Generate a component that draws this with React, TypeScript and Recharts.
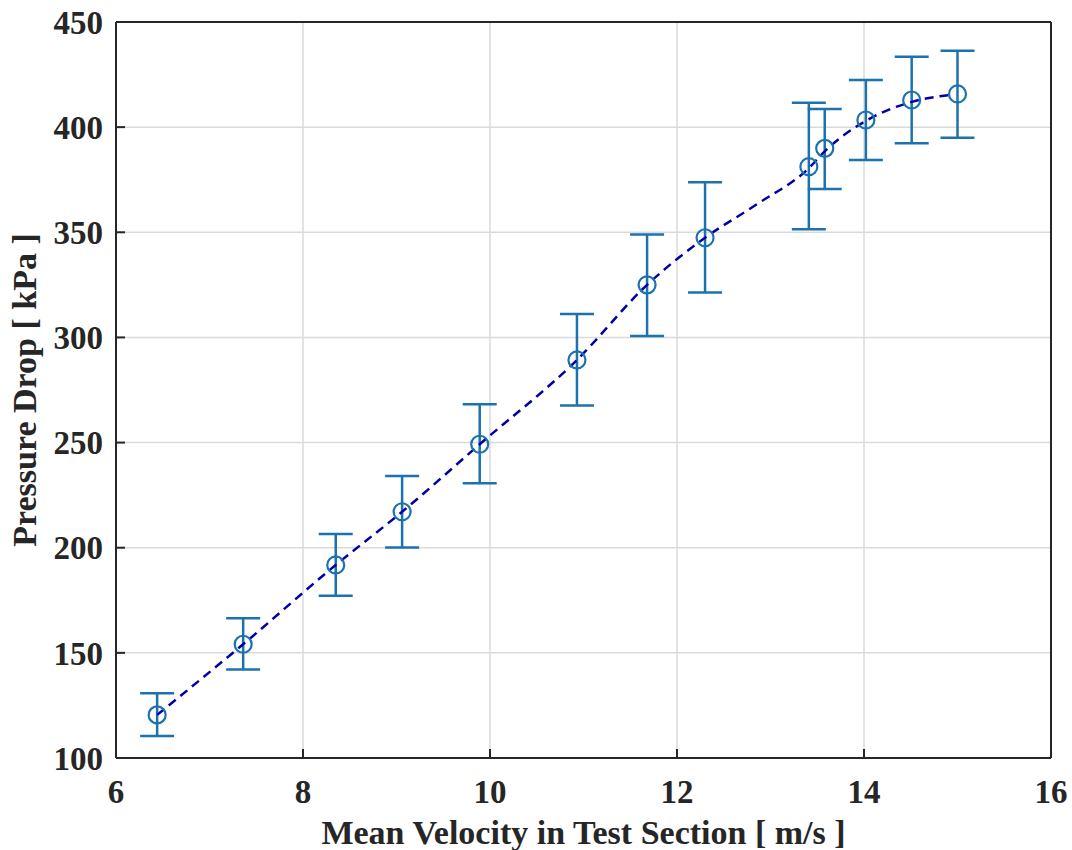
import React from "react";
import {
  ComposedChart,
  Scatter,
  Line,
  XAxis,
  YAxis,
  CartesianGrid,
  ErrorBar,
} from "recharts";

// Measured points
const velocity = [6.44, 7.36, 8.35, 9.06, 9.89, 10.93, 11.68, 12.3, 13.41, 13.58, 14.02, 14.51, 15.0];
const pressureDrop = [120.5, 154.1, 191.8, 217.1, 249.2, 289.3, 325.0, 347.4, 381.2, 389.9, 403.4, 412.9, 415.8];
const errLow = [10, 12, 14.7, 17, 18.6, 21.7, 24.3, 26, 29.8, 19.3, 19, 20.6, 20.8];
const errHigh = [10.3, 12.4, 14.7, 17, 19, 21.9, 24, 26.4, 30.4, 18.7, 19, 20.6, 20.5];

// Dashed fit curve
const fitVelocity = [6.44, 7.36, 8.35, 9.06, 9.89, 10.93, 11.68, 12.3, 12.86, 13.41, 13.58, 14.02, 14.51, 14.9];
const fitPressure = [120.5, 154.1, 191.8, 217.1, 249.2, 289.3, 325.0, 347.4, 363.5, 380.5, 388.5, 403.0, 412.0, 415.2];

const xTicks = [6, 8, 10, 12, 14, 16];
const yTicks = [100, 150, 200, 250, 300, 350, 400, 450];

const data = velocity.map((v, i) => ({
  x: v,
  y: pressureDrop[i],
  err: [errLow[i], errHigh[i]],
}));
const fitData = fitVelocity.map((v, i) => ({ x: v, fit: fitPressure[i] }));

const MARKER = "#1b72ae";
const FIT = "#0000a8";
const AXIS = "#262626";
const FONT = "'Liberation Serif', 'Times New Roman', serif";

const tickStyle = { fill: AXIS, fontSize: 33, fontWeight: 700, fontFamily: FONT };

const OpenCircle = (props: any) => {
  const { cx, cy } = props;
  if (cx == null || cy == null) return null;
  return <circle cx={cx} cy={cy} r={8.5} fill="none" stroke={MARKER} strokeWidth={2.2} />;
};

export default function App() {
  return (
    <div style={{ position: "absolute", left: 0, top: 0, background: "#fff" }}>
      <ComposedChart
        width={1072}
        height={850}
        data={data}
        margin={{ top: 21, right: 20, bottom: 0, left: 0 }}
      >
        <CartesianGrid stroke="#dadada" strokeWidth={1.5} />
        <XAxis
          dataKey="x"
          type="number"
          domain={[6, 16]}
          ticks={xTicks}
          interval={0}
          height={92}
          tick={tickStyle}
          tickSize={-9}
          tickMargin={31}
          axisLine={{ stroke: AXIS, strokeWidth: 2 }}
          tickLine={{ stroke: AXIS, strokeWidth: 2 }}
          label={{
            value: "Mean Velocity in Test Section [ m/s ]",
            position: "insideBottom",
            offset: 6,
            style: { fill: AXIS, fontSize: 34, fontWeight: 700, fontFamily: FONT },
          }}
        />
        <XAxis
          xAxisId="top"
          orientation="top"
          dataKey="x"
          type="number"
          domain={[6, 16]}
          ticks={xTicks}
          interval={0}
          height={1}
          tick={false}
          tickSize={-9}
          axisLine={{ stroke: AXIS, strokeWidth: 2 }}
          tickLine={{ stroke: AXIS, strokeWidth: 2 }}
        />
        <YAxis
          type="number"
          domain={[100, 450]}
          ticks={yTicks}
          interval={0}
          width={116}
          tick={tickStyle}
          tickSize={-9}
          tickMargin={22}
          axisLine={{ stroke: AXIS, strokeWidth: 2 }}
          tickLine={{ stroke: AXIS, strokeWidth: 2 }}
          label={{
            value: "Pressure Drop [ kPa ]",
            angle: -90,
            position: "insideLeft",
            offset: 24,
            style: { fill: AXIS, fontSize: 34, fontWeight: 700, fontFamily: FONT, textAnchor: "middle" },
          }}
        />
        <YAxis
          yAxisId="right"
          orientation="right"
          type="number"
          domain={[100, 450]}
          ticks={yTicks}
          interval={0}
          width={1}
          tick={false}
          tickSize={-9}
          axisLine={{ stroke: AXIS, strokeWidth: 2 }}
          tickLine={{ stroke: AXIS, strokeWidth: 2 }}
        />
        <Scatter dataKey="y" shape={<OpenCircle />} isAnimationActive={false}>
          <ErrorBar
            dataKey="err"
            direction="y"
            width={17}
            stroke={MARKER}
            strokeWidth={2.5}
            isAnimationActive={false}
          />
        </Scatter>
        <Line
          data={fitData}
          dataKey="fit"
          type="monotone"
          stroke={FIT}
          strokeWidth={2.5}
          strokeDasharray="9 6"
          dot={false}
          activeDot={false}
          isAnimationActive={false}
        />
      </ComposedChart>
    </div>
  );
}
